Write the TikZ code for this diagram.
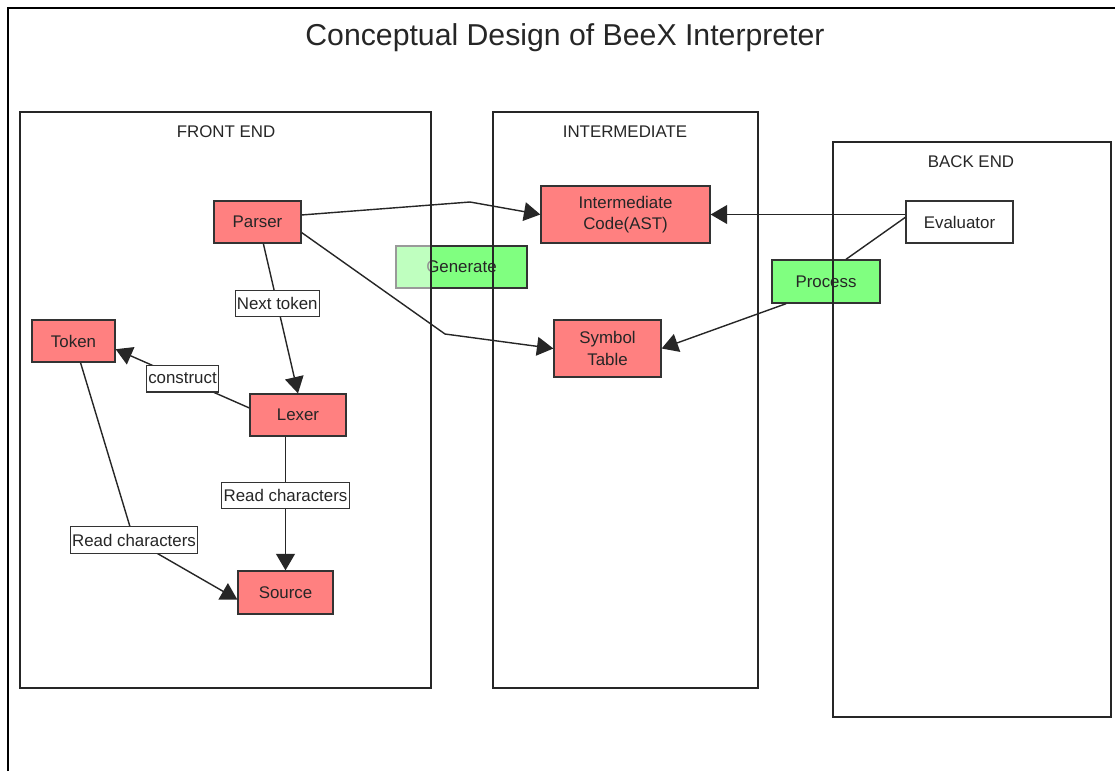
\documentclass[tikz,border=0pt]{standalone}
\usepackage{fontspec}
\setmainfont{Liberation Sans}
\usepackage{tikz}
\usetikzlibrary{arrows.meta}

\begin{document}
\begin{tikzpicture}[x=0.03cm, y=-0.03cm, >={Triangle[length=14pt, width=16pt]},
    every node/.style={font=\fontsize{14.4}{18.5}\selectfont, text=black!85},
    box/.style={draw=black!80, line width=1.1pt, inner sep=0pt, align=center, minimum height=1.26cm},
    redbox/.style={box, fill=red!50},
    greenbox/.style={box, fill=green!50},
    whitebox/.style={box, fill=white},
    lbl/.style={draw=black!80, fill=white, line width=1pt, inner xsep=1.5pt, inner ysep=0pt, minimum height=0.8cm},
    container/.style={draw=black!85, line width=1.4pt},
    conn/.style={draw=black!85, line width=1.2pt}]
    \useasboundingbox (0,0) rectangle (1115,771);

    % 1. Khung ngoai va tieu de
    \draw[line width=1.4pt] (8,771) -- (8,8) -- (1115,8);
    \node[font=\fontsize{25.8}{30}\selectfont] (title) at (565,38) {Conceptual Design of BeeX Interpreter};

    % 2. Cac nut xanh (nam duoi cac khung)
    \node[greenbox, minimum width=3.93cm] (generate) at (461.5,267) {Generate};
    \node[greenbox, minimum width=3.24cm, minimum height=1.29cm] (process) at (826,281.5) {Process};

    % 3. Ba khung
    \draw[container, fill=white, fill opacity=0.5] (20,112) rectangle (431,688);
    \draw[container] (493,112) rectangle (758,688);
    \draw[container] (833,142) rectangle (1111,717);
    \node (frontlbl) at (226,132) {FRONT END};
    \node (midlbl) at (625,132) {INTERMEDIATE};
    \node (backlbl) at (971,162) {BACK END};

    % 4. Cac nut
    \node[redbox, minimum width=2.61cm] (parser) at (257.5,222) {Parser};
    \node[redbox, minimum width=2.49cm] (token) at (73.5,341) {Token};
    \node[redbox, minimum width=2.88cm] (lexer) at (298,415) {Lexer};
    \node[redbox, minimum width=2.85cm, minimum height=1.29cm] (source) at (285.5,592.5) {Source};
    \node[redbox, minimum width=5.07cm, minimum height=1.71cm] (code) at (625.5,214.5) {Intermediate\\Code(AST)};
    \node[redbox, minimum width=3.21cm, minimum height=1.71cm] (symbol) at (607.5,348.5) {Symbol\\Table};
    \node[whitebox, minimum width=3.21cm] (evaluator) at (959.5,222) {Evaluator};

    % 5. Mui ten
    \draw[conn, ->] ([yshift=6pt]parser.east) -- (470,202) -- (code.west);
    \draw[conn, ->] ([yshift=-9pt]parser.east) -- (445,334) -- (symbol.west);
    \draw[conn, ->] ([xshift=5pt]parser.south) -- (lexer.north)
        node[lbl, pos=0.4] (nexttok) {Next token};
    \draw[conn, ->] ([yshift=6pt]lexer.west) -- ([yshift=-7pt]token.east)
        node[lbl, midway] (construct) {construct};
    \draw[conn, ->] (lexer.south -| source.north) -- (source.north)
        node[lbl, pos=0.44] (readlex) {Read characters};
    \draw[conn, ->] ([xshift=6pt]token.south) -- (134,540)
        node[lbl] (readtok) {Read characters} -- ([yshift=-6pt]source.west);
    \draw[conn, ->] (code.east -| evaluator.west) -- (code.east);
    \draw[conn] ([yshift=4pt]evaluator.west) -- ([xshift=17pt]process.north);
    \draw[conn, ->] ([xshift=-34pt]process.south) -- (symbol.east);
\end{tikzpicture}
\end{document}
